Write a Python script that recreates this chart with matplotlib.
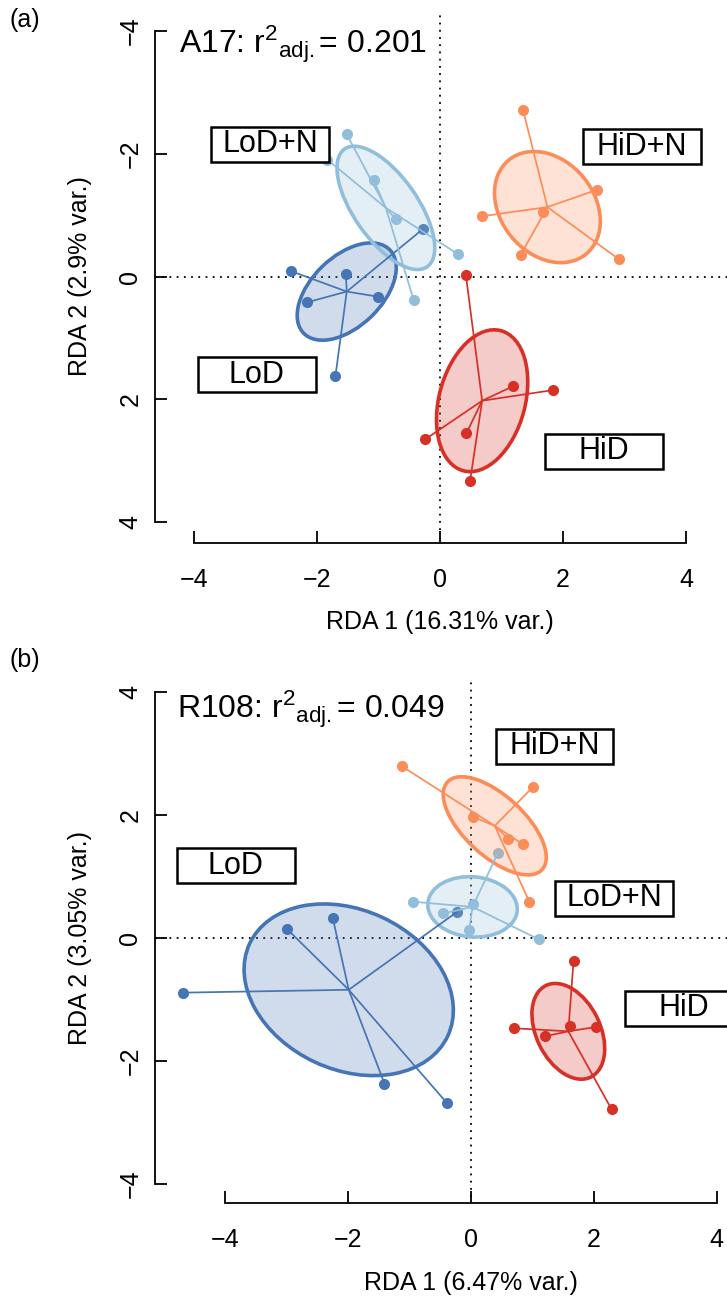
import matplotlib
matplotlib.use("Agg")
import matplotlib.pyplot as plt
from matplotlib.patches import Ellipse, Rectangle
import numpy as np

plt.rcParams['font.family'] = ['Liberation Sans', 'DejaVu Sans']
plt.rcParams['mathtext.fontset'] = 'custom'
plt.rcParams['mathtext.rm'] = 'Liberation Sans'
plt.rcParams['mathtext.it'] = 'Liberation Sans'
plt.rcParams['mathtext.default'] = 'regular'

# ---------------- data ----------------
groups = ["LoD", "LoD+N", "HiD+N", "HiD"]
colors = {"LoD": "#4575B4", "LoD+N": "#91BFDB", "HiD+N": "#FC8D59", "HiD": "#D73027"}

# Panel (a): A17
a_lod_x = [-2.43, -1.53, -2.16, -1.00, -0.28, -1.70]
a_lod_y = [-0.09, -0.04, 0.42, 0.33, -0.77, 1.62]
a_lodn_x = [-1.52, -1.83, -1.08, -0.72, 0.30, -0.43]
a_lodn_y = [-2.32, -1.90, -1.57, -0.93, -0.36, 0.38]
a_hidn_x = [1.35, 2.55, 0.68, 1.68, 1.31, 2.91]
a_hidn_y = [-2.71, -1.41, -0.98, -1.05, -0.35, -0.28]
a_hid_x = [0.42, 1.18, 1.83, -0.24, 0.43, 0.49]
a_hid_y = [-0.03, 1.79, 1.85, 2.65, 2.55, 3.32]
# ellipse semi-axes (major, minor) and angle (deg, data coords)
a_ell_major = [0.975, 1.17, 0.99, 1.18]
a_ell_minor = [0.57, 0.52, 0.76, 0.70]
a_ell_angle = [-44, 55, 50.6, -75]
a_label_x = [-2.98, -2.76, 3.28, 2.67]
a_label_y = [1.60, -2.15, -2.11, 2.84]

# Panel (b): R108
b_lod_x = [-4.69, -2.99, -2.25, -0.22, -1.41, -0.39]
b_lod_y = [-0.89, 0.14, 0.32, 0.43, -2.37, -2.69]
b_lodn_x = [-0.94, -0.45, 0.03, -0.03, 1.10, 0.44]
b_lodn_y = [0.59, 0.40, 0.55, 0.13, -0.02, 1.39]
b_hidn_x = [-1.13, 1.01, 0.04, 0.61, 0.84, 0.95]
b_hidn_y = [2.80, 2.46, 1.97, 1.61, 1.53, 0.59]
b_hid_x = [1.67, 0.70, 1.21, 1.61, 2.03, 2.29]
b_hid_y = [-0.37, -1.47, -1.60, -1.44, -1.45, -2.79]
b_ell_major = [1.78, 0.73, 1.05, 0.83]
b_ell_minor = [1.30, 0.49, 0.49, 0.52]
b_ell_angle = [-25, -5, -42.8, -63.9]
b_label_x = [-3.83, 2.33, 1.36, 3.47]
b_label_y = [1.18, 0.65, 3.12, -1.145]

ticks = [-4, -2, 0, 2, 4]
tick_labels = ["\u22124", "\u22122", "0", "2", "4"]

W, H = 727, 1301
fig = plt.figure(figsize=(W / 100, H / 100), dpi=100)


def add_ax(L, T, R, B):
    return fig.add_axes([L / W, 1 - B / H, (R - L) / W, (B - T) / H])


def draw_panel(ax, xs, ys, majors, minors, angles, lab_x, lab_y, bottom_off):
    # points
    for g, x, y in zip(groups, xs, ys):
        ax.plot(x, y, 'o', color=colors[g], ms=8, mec='none', zorder=3, clip_on=False)
    # ellipses
    for g, x, y, a, b, ang in zip(groups, xs, ys, majors, minors, angles):
        cx, cy = np.mean(x), np.mean(y)
        ax.add_patch(Ellipse((cx, cy), 2 * a, 2 * b, angle=ang, facecolor=colors[g],
                             alpha=0.25, edgecolor='none', zorder=4, clip_on=False))
        ax.add_patch(Ellipse((cx, cy), 2 * a, 2 * b, angle=ang, facecolor='none',
                             edgecolor=colors[g], lw=2.6, zorder=5, clip_on=False))
    # spiders
    for g, x, y in zip(groups, xs, ys):
        cx, cy = np.mean(x), np.mean(y)
        for xi, yi in zip(x, y):
            ax.plot([cx, xi], [cy, yi], '-', color=colors[g], lw=1.25, zorder=6,
                    clip_on=False, solid_capstyle='butt')
    # labels in boxes
    bw, bh = 1.92, 0.57
    for g, lx, ly in zip(groups, lab_x, lab_y):
        ax.add_patch(Rectangle((lx - bw / 2, ly - bh / 2), bw, bh, facecolor='white',
                               edgecolor='black', lw=1.8, zorder=7, clip_on=False))
        ax.text(lx, ly, g, ha='center', va='center', fontsize=22, zorder=8, clip_on=False)
    # zero lines
    ax.axhline(0, color='black', lw=1.3, ls=(0, (1, 3)), zorder=1)
    ax.axvline(0, color='black', lw=1.3, ls=(0, (1, 3)), zorder=1)
    # axes
    for s in ['top', 'right']:
        ax.spines[s].set_visible(False)
    ax.spines['left'].set_bounds(-4, 4)
    ax.spines['bottom'].set_bounds(-4, 4)
    ax.spines['bottom'].set_position(('outward', bottom_off))
    for s in ['left', 'bottom']:
        ax.spines[s].set_linewidth(1.3)
    ax.set_xticks(ticks)
    ax.set_xticklabels(tick_labels)
    ax.set_yticks(ticks)
    ax.set_yticklabels(tick_labels, rotation=90, va='center')
    ax.tick_params(axis='both', direction='in', length=8.3, width=1.3, labelsize=18)
    ax.tick_params(axis='x', pad=18)
    ax.tick_params(axis='y', pad=9)
    ax.patch.set_visible(False)


# Panel (a)
ax1 = add_ax(155, 15, 727, 530)
ax1.set_xlim((155 - 440) / 61.5, (727 - 440) / 61.5)
ax1.set_ylim((530 - 276.5) / 61.45, (15 - 276.5) / 61.45)
draw_panel(ax1, [a_lod_x, a_lodn_x, a_hidn_x, a_hid_x],
           [a_lod_y, a_lodn_y, a_hidn_y, a_hid_y],
           a_ell_major, a_ell_minor, a_ell_angle, a_label_x, a_label_y, 9.4)
fig.text(179 / W, 1 - 53 / H, r"A17: r$^{2}{}_{adj.}$= 0.201", fontsize=23,
         ha='left', va='baseline')
fig.text(80 / W, 1 - 276 / H, "RDA 2 (2.9% var.)", rotation=90, fontsize=18,
         ha='center', va='center')
fig.text(440 / W, 1 - 622 / H, "RDA 1 (16.31% var.)", fontsize=18, ha='center', va='center')
fig.text(25 / W, 1 - 20 / H, "(a)", fontsize=18, ha='center', va='center')

# Panel (b)
ax2 = add_ax(155, 677, 727, 1197)
ax2.set_xlim((155 - 471) / 61.4, (727 - 471) / 61.4)
ax2.set_ylim((938 - 1197) / 61.4, (938 - 677) / 61.4)
draw_panel(ax2, [b_lod_x, b_lodn_x, b_hidn_x, b_hid_x],
           [b_lod_y, b_lodn_y, b_hidn_y, b_hid_y],
           b_ell_major, b_ell_minor, b_ell_angle, b_label_x, b_label_y, 4.5)
fig.text(177 / W, 1 - 718 / H, r"R108: r$^{2}{}_{adj.}$= 0.049", fontsize=23,
         ha='left', va='baseline')
fig.text(80 / W, 1 - 938 / H, "RDA 2 (3.05% var.)", rotation=90, fontsize=18,
         ha='center', va='center')
fig.text(471 / W, 1 - 1283 / H, "RDA 1 (6.47% var.)", fontsize=18, ha='center', va='center')
fig.text(25 / W, 1 - 660 / H, "(b)", fontsize=18, ha='center', va='center')

fig.savefig("out.png", dpi=100)
